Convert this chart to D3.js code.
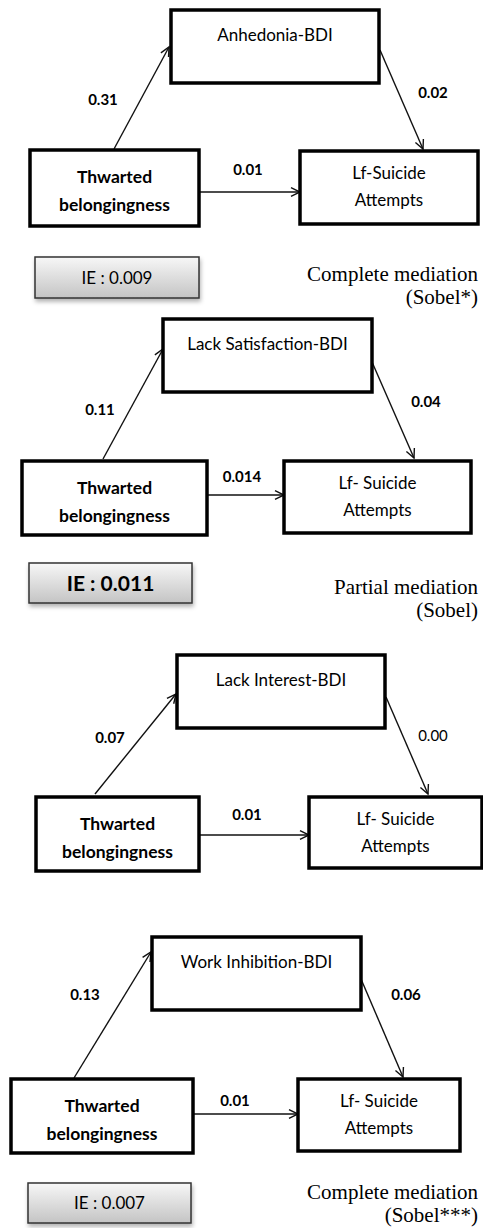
<!DOCTYPE html>
<html>
<head>
<meta charset="utf-8">
<script src="https://cdn.jsdelivr.net/npm/d3@7"></script>
<style>
  body { margin: 0; background: #fff; }
  svg { display: block; }
</style>
</head>
<body>
<script>
// values
var mediators = ['Anhedonia-BDI', 'Lack Satisfaction-BDI', 'Lack Interest-BDI', 'Work Inhibition-BDI'];
var outcomes = ['Lf-Suicide', 'Lf- Suicide', 'Lf- Suicide', 'Lf- Suicide'];
var pathA = ['0.31', '0.11', '0.07', '0.13'];
var pathB = ['0.02', '0.04', '0.00', '0.06'];
var pathC = ['0.01', '0.014', '0.01', '0.01'];
var boldB = [true, true, false, true];
var indirect = ['IE : 0.009', 'IE : 0.011', null, 'IE : 0.007'];
var ieBold = [false, true, false, false];
var mediation = ['Complete mediation', 'Partial mediation', null, 'Complete mediation'];
var sobel = ['(Sobel*)', '(Sobel)', null, '(Sobel***)'];

// layout of each panel (pixels)
var layout = [
  { med: [171, 10, 379, 83], left: [30, 150, 199, 226], right: [300, 151, 478, 224],
    a: [114, 149, 169, 47], b: [380, 50, 423, 149], cy: 192,
    aLab: [103, 105], bLab: [433, 98], cLab: [248, 175],
    ie: [35, 257, 199, 298], medTxt: 281 },
  { med: [163, 319, 372, 392], left: [22, 461, 207, 535], right: [284, 461, 471, 533],
    a: [103, 459, 163, 349], b: [372, 362, 414, 458], cy: 495,
    aLab: [100, 415], bLab: [426, 407], cLab: [242, 482],
    ie: [29, 563, 192, 603], medTxt: 594 },
  { med: [177, 655, 385, 728], left: [36, 797, 199, 871], right: [309, 797, 482, 868],
    a: [95, 794, 176, 694], b: [386, 697, 428, 794], cy: 835,
    aLab: [110, 743], bLab: [433, 741], cLab: [247, 820],
    ie: null, medTxt: null },
  { med: [152, 937, 361, 1010], left: [11, 1079, 193, 1153], right: [298, 1079, 460, 1151],
    a: [74, 1078, 151, 952], b: [361, 979, 403, 1077], cy: 1114,
    aLab: [85, 1000], bLab: [406, 1000], cLab: [235, 1106],
    ie: [28, 1183, 191, 1223], medTxt: 1199 }
];

var W = 483, H = 1228;
var x = d3.scaleIdentity().domain([0, W]);
var y = d3.scaleIdentity().domain([0, H]);

var sans = 'Lato, Calibri, "Open Sans", sans-serif';
var serif = '"Liberation Serif", "Times New Roman", serif';

var svg = d3.select('body').append('svg')
  .attr('width', W)
  .attr('height', H);

var defs = svg.append('defs');
var grad = defs.append('linearGradient')
  .attr('id', 'ieGrad')
  .attr('x1', 0).attr('y1', 0).attr('x2', 0).attr('y2', 1);
grad.append('stop').attr('offset', '0%').attr('stop-color', '#f7f7f7');
grad.append('stop').attr('offset', '100%').attr('stop-color', '#c4c4c4');

var shadow = defs.append('filter').attr('id', 'shadow')
  .attr('x', '-10%').attr('y', '-10%').attr('width', '130%').attr('height', '150%');
shadow.append('feDropShadow')
  .attr('dx', 1).attr('dy', 3).attr('stdDeviation', 2)
  .attr('flood-color', '#000').attr('flood-opacity', 0.3);

var arrowLen = 10, arrowAng = Math.PI / 7;

function drawArrow(g, x1, y1, x2, y2) {
  g.append('line')
    .attr('x1', x(x1)).attr('y1', y(y1))
    .attr('x2', x(x2)).attr('y2', y(y2))
    .attr('stroke', '#111').attr('stroke-width', 1.4);
  var ang = Math.atan2(y(y2) - y(y1), x(x2) - x(x1));
  var head = d3.path();
  head.moveTo(x(x2) - arrowLen * Math.cos(ang - arrowAng), y(y2) - arrowLen * Math.sin(ang - arrowAng));
  head.lineTo(x(x2), y(y2));
  head.lineTo(x(x2) - arrowLen * Math.cos(ang + arrowAng), y(y2) - arrowLen * Math.sin(ang + arrowAng));
  g.append('path')
    .attr('d', head.toString())
    .attr('fill', 'none')
    .attr('stroke', '#111')
    .attr('stroke-width', 1.4);
}

function drawBox(g, r) {
  g.append('rect')
    .attr('x', x(r[0])).attr('y', y(r[1]))
    .attr('width', x(r[2]) - x(r[0]))
    .attr('height', y(r[3]) - y(r[1]))
    .attr('fill', '#fff')
    .attr('stroke', '#000')
    .attr('stroke-width', 3.5);
}

function label(g, px, py, txt, opts) {
  opts = opts || {};
  g.append('text')
    .attr('x', x(px)).attr('y', y(py))
    .attr('text-anchor', opts.anchor || 'middle')
    .attr('font-family', opts.family || sans)
    .attr('font-size', opts.size || 17)
    .attr('font-weight', opts.bold ? 'bold' : 'normal')
    .attr('fill', '#000')
    .text(txt);
}

layout.forEach(function(L, i) {
  var g = svg.append('g').attr('class', 'panel');

  // arrows first so boxes sit on top of line ends
  drawArrow(g, L.a[0], L.a[1], L.a[2], L.a[3]);
  drawArrow(g, L.b[0], L.b[1], L.b[2], L.b[3]);
  drawArrow(g, L.left[2], L.cy, L.right[0], L.cy);

  drawBox(g, L.med);
  drawBox(g, L.left);
  drawBox(g, L.right);

  var mx = (L.med[0] + L.med[2]) / 2;
  label(g, mx, L.med[1] + 31, mediators[i], { size: 17 });

  var lx = (L.left[0] + L.left[2]) / 2;
  label(g, lx, L.left[1] + 33, 'Thwarted', { bold: true, size: 17.5 });
  label(g, lx, L.left[1] + 61, 'belongingness', { bold: true, size: 17.5 });

  var rx = (L.right[0] + L.right[2]) / 2;
  label(g, rx, L.right[1] + 28, outcomes[i], { size: 17 });
  label(g, rx, L.right[1] + 55, 'Attempts', { size: 17 });

  label(g, L.aLab[0], L.aLab[1], pathA[i], { bold: true, size: 15 });
  label(g, L.bLab[0], L.bLab[1], pathB[i], { bold: boldB[i], size: 15 });
  label(g, L.cLab[0], L.cLab[1], pathC[i], { bold: true, size: 15 });

  if (indirect[i]) {
    var r = L.ie;
    g.append('rect')
      .attr('x', x(r[0])).attr('y', y(r[1]))
      .attr('width', x(r[2]) - x(r[0]))
      .attr('height', y(r[3]) - y(r[1]))
      .attr('fill', 'url(#ieGrad)')
      .attr('stroke', '#333')
      .attr('stroke-width', 1.5)
      .attr('filter', 'url(#shadow)');
    var big = ieBold[i];
    label(g, (r[0] + r[2]) / 2, (r[1] + r[3]) / 2 + (big ? 8 : 6), indirect[i],
      { bold: big, size: big ? 21 : 17 });
  }

  if (mediation[i]) {
    label(g, 478, L.medTxt, mediation[i], { anchor: 'end', family: serif, size: 21 });
    label(g, 478, L.medTxt + 23, sobel[i], { anchor: 'end', family: serif, size: 21 });
  }
});
</script>
</body>
</html>
